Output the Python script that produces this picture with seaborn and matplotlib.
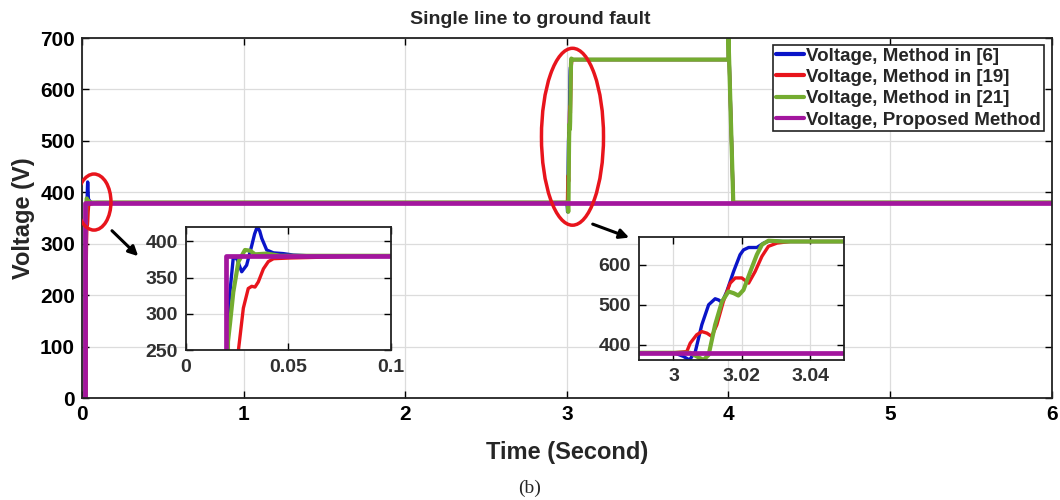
import matplotlib
matplotlib.use("Agg")
import matplotlib.pyplot as plt
import seaborn as sns
from matplotlib.patches import Ellipse

sns.set_theme(style="ticks")
plt.rcParams["font.family"] = ["Liberation Sans", "DejaVu Sans"]
plt.rcParams["font.weight"] = "bold"
plt.rcParams["axes.labelweight"] = "bold"

# ---- time series (seconds, volts) ----
t_m6 = [0, 0.0198, 0.0207, 0.0231, 0.0248, 0.0272, 0.0296, 0.0321, 0.0335, 0.0348,
        0.0360, 0.0370, 0.0394, 0.0427, 0.0475, 0.0524, 0.0600,
        3.0000, 3.0005, 3.0029, 3.0047, 3.0064, 3.0083, 3.0103, 3.0122, 3.0132,
        3.0142, 3.0156, 3.0176, 3.0195, 3.0205, 3.0220, 3.0244, 3.0264, 3.0283,
        3.0320, 4.0000, 4.0005, 4.0300, 6.0]
v_m6 = [0, 0, 308, 378, 376, 358, 367, 394, 410, 420,
        414, 404, 388, 384, 383, 381, 380,
        380, 379, 371, 362, 383, 450, 500, 515, 512,
        506, 533, 583, 625, 637, 643, 643, 654, 660,
        658, 658, 705, 380, 380]

t_m19 = [0, 0.0252, 0.0256, 0.0280, 0.0304, 0.0321, 0.0337, 0.0353, 0.0378, 0.0402,
         0.0427, 0.0508, 0.0655, 0.0900,
         3.0000, 3.0039, 3.0049, 3.0068, 3.0083, 3.0098, 3.0112, 3.0127, 3.0146,
         3.0166, 3.0181, 3.0200, 3.0220, 3.0239, 3.0259, 3.0278, 3.0303, 3.0342,
         4.0000, 4.0005, 4.0300, 6.0]
v_m19 = [0, 0, 250, 308, 335, 338, 337, 344, 362, 372,
         376, 377, 378, 380,
         380, 383, 404, 425, 433, 429, 421, 450, 508,
         554, 567, 567, 554, 583, 621, 646, 654, 658,
         658, 702, 380, 380]

t_m21 = [0, 0.0198, 0.0205, 0.0215, 0.0231, 0.0256, 0.0288, 0.0313, 0.0337, 0.0394,
         0.0460,
         3.0000, 3.0049, 3.0068, 3.0088, 3.0103, 3.0122, 3.0142, 3.0161, 3.0176,
         3.0190, 3.0205, 3.0225, 3.0244, 3.0259, 3.0278, 3.0320,
         4.0000, 4.0005, 4.0300, 6.0]
v_m21 = [0, 0, 262, 287, 330, 372, 388, 387, 382, 383,
         380,
         380, 380, 371, 362, 375, 450, 508, 533, 529,
         523, 537, 583, 625, 650, 660, 658,
         658, 700, 380, 380]

t_prop = [0, 0.0195, 0.0195, 6.0]
v_prop = [0, 0, 380, 380]

labels = ["Voltage, Method in [6]", "Voltage, Method in [19]",
          "Voltage, Method in [21]", "Voltage, Proposed Method"]
colors = ["#0a14c8", "#e8141c", "#74ac30", "#a3169e"]
widths = [2.4, 2.4, 3.0, 3.4]
series = [(t_m6, v_m6), (t_m19, v_m19), (t_m21, v_m21), (t_prop, v_prop)]

x_ticks = [0, 1, 2, 3, 4, 5, 6]
y_ticks = [0, 100, 200, 300, 400, 500, 600, 700]

fig = plt.figure(figsize=(10.6, 5), dpi=100)
fig.patch.set_facecolor("white")


def draw_series(ax):
    for (t, v), lab, c, w in zip(series, labels, colors, widths):
        sns.lineplot(x=t, y=v, ax=ax, color=c, lw=w, estimator=None,
                     sort=False, label=lab, legend=False)


def style_axes(ax, size, color, pad):
    ax.grid(True, color="#dcdcdc", lw=0.9)
    ax.set_axisbelow(True)
    ax.tick_params(direction="in", top=True, right=True, length=5, width=1,
                   labelsize=size, labelcolor=color, color="black", pad=pad)
    for lab in ax.get_xticklabels() + ax.get_yticklabels():
        lab.set_fontweight("bold")
    for s in ax.spines.values():
        s.set_visible(True)
        s.set_color("#222222")
        s.set_linewidth(1.3)
    ax.set_xlabel("")
    ax.set_ylabel("")


# ---- main axes ----
ax = fig.add_axes([0.0774, 0.204, 0.9147, 0.72])
draw_series(ax)
ax.set_xlim(0, 6)
ax.set_ylim(0, 700)
ax.set_xticks(x_ticks)
ax.set_yticks(y_ticks)
style_axes(ax, 15, "black", 5)
ax.set_xlabel("Time (Second)", fontsize=17, fontweight="bold", labelpad=12)
ax.set_ylabel("Voltage (V)", fontsize=17, fontweight="bold", labelpad=4)

handles = ax.get_lines()[:4]
leg = ax.legend(handles, labels, loc="upper right", bbox_to_anchor=(0.992, 0.981),
                borderaxespad=0, fancybox=False, framealpha=1, edgecolor="#222222",
                prop={"weight": "bold", "size": 13.5}, handlelength=1.5,
                handletextpad=0.1, borderpad=0.15, labelspacing=0.22)
leg.get_frame().set_linewidth(1.2)
for h in leg.get_lines():
    h.set_linewidth(3)

# highlighted transients and pointers
ax.add_patch(Ellipse((0.074, 381), 0.21, 109, fill=False, ec="#e8141c", lw=2.5, zorder=6))
ax.add_patch(Ellipse((3.035, 508), 0.384, 344, fill=False, ec="#e8141c", lw=2.5, zorder=6))
ax.annotate("", xy=(0.36, 272), xytext=(0.173, 329),
            arrowprops=dict(arrowstyle="-|>", color="black", lw=2.2, mutation_scale=14))
ax.annotate("", xy=(3.402, 310), xytext=(3.144, 340),
            arrowprops=dict(arrowstyle="-|>", color="black", lw=2.2, mutation_scale=14))

fig.text(0.5, 0.962, "Single line to ground fault", ha="center", va="center",
         fontsize=14, fontweight="bold")
fig.text(0.5, 0.024, "(b)", ha="center", va="center", fontsize=14,
         family="Liberation Serif", fontweight="normal")

# ---- zoom on start-up ----
ax1 = fig.add_axes([0.1755, 0.2994, 0.1931, 0.2472])
draw_series(ax1)
ax1.set_xlim(0, 0.1)
ax1.set_ylim(250, 420)
ax1.set_xticks([0, 0.05, 0.1])
ax1.set_xticklabels(["0", "0.05", "0.1"])
ax1.set_yticks([250, 300, 350, 400])
style_axes(ax1, 14, "#303030", 6)

# ---- zoom on fault inception ----
ax2 = fig.add_axes([0.6031, 0.28, 0.1934, 0.2466])
draw_series(ax2)
ax2.set_xlim(2.99, 3.05)
ax2.set_ylim(362, 670)
ax2.set_xticks([3, 3.02, 3.04])
ax2.set_xticklabels(["3", "3.02", "3.04"])
ax2.set_yticks([400, 500, 600])
style_axes(ax2, 14, "#303030", 6)

fig.savefig("out.png", dpi=100, facecolor="white")
